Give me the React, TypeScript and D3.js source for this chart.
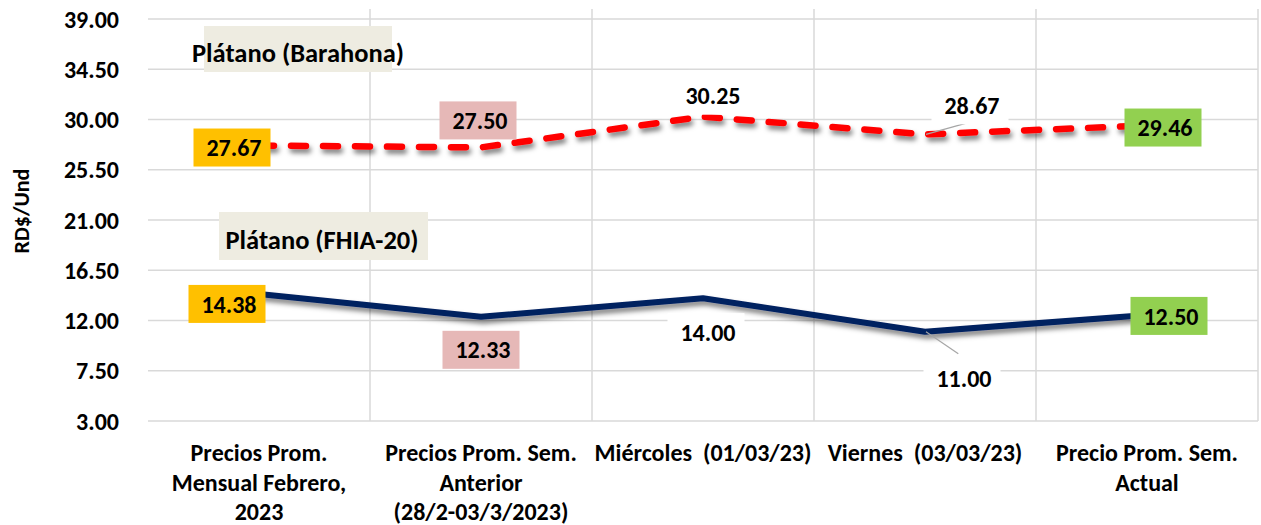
import React, { useEffect, useRef } from "react";
import * as d3 from "d3";

// chart data
const categories = [
  "Precios Prom.|Mensual Febrero,|2023",
  "Precios Prom. Sem.|Anterior|(28/2-03/3/2023)",
  "Miércoles  (01/03/23)",
  "Viernes  (03/03/23)",
  "Precio Prom. Sem.|Actual",
];
const barahona = [27.67, 27.5, 30.25, 28.67, 29.46];
const fhia20 = [14.38, 12.33, 14.0, 11.0, 12.5];
const yTicks = [3, 7.5, 12, 16.5, 21, 25.5, 30, 34.5, 39];
const seriesNames = ["Plátano (Barahona)", "Plátano (FHIA-20)"];

// label layout (offset of label centre from point, box fill)
const boxFills = ["#FFC000", "#E6B8B7", "#FFFFFF", "#FFFFFF", "#92D050"];
const barahonaOffsets = [[-27, 2], [-3, -27], [8, -21], [45, -29], [16, 2]];
const fhiaOffsets = [[-32, 10], [0, 33], [3, 34], [37, 47], [22, 1]];

const W = 1261;
const H = 525;
const FONT = "'Liberation Sans Narrow', 'Arial Narrow', Calibri, 'Liberation Sans', sans-serif";

const App = () => {
  const ref = useRef<SVGSVGElement>(null);

  useEffect(() => {
    if (!ref.current) return;
    const svg = d3.select(ref.current);
    svg.selectAll("*").remove();

    const x = d3.scaleBand().domain(categories).range([148, 1258]);
    const y = d3.scaleLinear().domain([3, 39]).range([421, 19]);
    const cx = (i: number) => (x(categories[i]) as number) + x.bandwidth() / 2;

    const defs = svg.append("defs");
    const f = defs.append("filter").attr("id", "shadow")
      .attr("x", "-5%").attr("y", "-50%").attr("width", "110%").attr("height", "200%");
    f.append("feDropShadow").attr("dx", 2).attr("dy", 4).attr("stdDeviation", 2.5)
      .attr("flood-color", "#000").attr("flood-opacity", 0.5);

    // horizontal gridlines
    svg.append("g").selectAll("line").data(yTicks).join("line")
      .attr("x1", 148).attr("x2", 1258)
      .attr("y1", d => y(d)).attr("y2", d => y(d))
      .attr("stroke", "#d9d9d9").attr("stroke-width", 1.5);

    // vertical gridlines
    svg.append("g").selectAll("line").data(categories).join("line")
      .attr("x1", d => (x(d) as number) + x.bandwidth())
      .attr("x2", d => (x(d) as number) + x.bandwidth())
      .attr("y1", 9).attr("y2", y(3))
      .attr("stroke", "#d9d9d9").attr("stroke-width", 1.5);

    // y tick labels
    svg.append("g").selectAll("text").data(yTicks).join("text")
      .attr("x", 119).attr("y", d => y(d))
      .attr("dy", "0.36em")
      .attr("text-anchor", "end")
      .attr("font-family", FONT).attr("font-weight", "bold").attr("font-size", 24)
      .attr("fill", "#000")
      .text(d => d3.format(".2f")(d));

    // y axis title
    svg.append("text")
      .attr("transform", "translate(29,211) rotate(-90)")
      .attr("text-anchor", "middle")
      .attr("font-family", FONT).attr("font-weight", "bold").attr("font-size", 22)
      .text("RD$/Und");

    // x labels
    const xl = svg.append("g").selectAll("text").data(categories).join("text")
      .attr("text-anchor", "middle")
      .attr("font-family", FONT).attr("font-weight", "bold").attr("font-size", 24)
      .attr("fill", "#000")
      .style("white-space", "pre");
    xl.each(function (d, i) {
      const t = d3.select(this);
      d.split("|").forEach((line, k) => {
        t.append("tspan").attr("x", cx(i)).attr("y", 461 + k * 29.5).text(line);
      });
    });

    // series title boxes
    const titles = [
      { name: seriesNames[0], box: [204, 26, 188, 46], tx: 298, ty: 52 },
      { name: seriesNames[1], box: [219, 212, 209, 48], tx: 322, ty: 239 },
    ];
    titles.forEach(tt => {
      svg.append("rect")
        .attr("x", tt.box[0]).attr("y", tt.box[1])
        .attr("width", tt.box[2]).attr("height", tt.box[3])
        .attr("fill", "#EEECE1");
      svg.append("text")
        .attr("x", tt.tx).attr("y", tt.ty).attr("dy", "0.36em")
        .attr("text-anchor", "middle")
        .attr("font-family", FONT).attr("font-weight", "bold").attr("font-size", 26.5)
        .text(tt.name);
    });

    const line = d3.line<number>()
      .x((d, i) => cx(i))
      .y(d => y(d));

    svg.append("path")
      .datum(fhia20)
      .attr("d", line)
      .attr("fill", "none")
      .attr("stroke", "#002060").attr("stroke-width", 6)
      .attr("stroke-linejoin", "round")
      .attr("filter", "url(#shadow)");

    svg.append("path")
      .datum(barahona)
      .attr("d", line)
      .attr("fill", "none")
      .attr("stroke", "#FF0000").attr("stroke-width", 6.5)
      .attr("stroke-dasharray", "15 17")
      .attr("stroke-linecap", "round")
      .attr("filter", "url(#shadow)");

    // data labels
    const drawLabels = (vals: number[], offs: number[][]) => {
      vals.forEach((v, i) => {
        const px = cx(i), py = y(v);
        const lx = px + offs[i][0], ly = py + offs[i][1];
        if (i === 3) {
          // leader line
          const sy = offs[i][1] < 0 ? ly + 18 : ly - 25;
          svg.append("line")
            .attr("x1", px + 1).attr("y1", py)
            .attr("x2", px + offs[i][0] * 0.9).attr("y2", sy)
            .attr("stroke", "#a6a6a6").attr("stroke-width", 1.2);
        }
        svg.append("rect")
          .attr("x", lx - 38.5).attr("y", ly - 19)
          .attr("width", 77).attr("height", 38)
          .attr("fill", boxFills[i]);
        svg.append("text")
          .attr("x", lx + 2).attr("y", ly).attr("dy", "0.36em")
          .attr("text-anchor", "middle")
          .attr("font-family", FONT).attr("font-weight", "bold").attr("font-size", 24)
          .text(d3.format(".2f")(v));
      });
    };
    drawLabels(barahona, barahonaOffsets);
    drawLabels(fhia20, fhiaOffsets);
  }, []);

  return <svg ref={ref} width={W} height={H} style={{ position: "absolute", left: 0, top: 0, background: "#fff" }} />;
};

export default App;
